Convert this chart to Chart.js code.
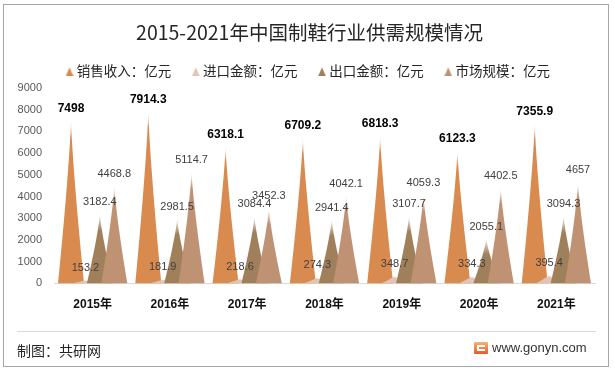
<!DOCTYPE html>
<html><head><meta charset="utf-8">
<script src="https://cdn.jsdelivr.net/npm/chart.js@4.4.1/dist/chart.umd.min.js"></script>
<style>
html,body{margin:0;padding:0;background:#fff;}
#wrap{position:relative;width:615px;height:371px;overflow:hidden;background:#fff;}
#c{position:absolute;left:0;top:0;}
#frame{position:absolute;left:3px;top:4px;width:606px;height:363px;border:1px solid #a6a6a6;box-sizing:border-box;pointer-events:none;}
#sep{position:absolute;left:17px;top:331px;width:579px;height:1px;background:#d9d9d9;}
#src{position:absolute;left:17px;top:341px;font:14px "Noto Sans CJK SC",sans-serif;line-height:18px;color:#262626;}
#logo{position:absolute;left:474px;top:342px;width:14px;height:12px;background:linear-gradient(#f9b46c,#e9572c);border-radius:1px;}
#logo i{position:absolute;left:3px;top:3px;width:8px;height:2px;background:#fff;}
#logo b{position:absolute;left:3px;top:3px;width:2px;height:6px;background:#fff;}
#logo u{position:absolute;left:3px;top:7px;width:8px;height:2px;background:#fff;}
#url{position:absolute;left:492px;top:340px;font:13px "Liberation Sans",Arial,sans-serif;line-height:16px;color:#333;}
</style></head>
<body>
<div id="wrap">
<canvas id="c" width="615" height="371"></canvas>
<div id="frame"></div>
<div id="sep"></div>
<div id="src">制图：共研网</div>
<div id="logo"><i></i><b></b><u></u></div>
<div id="url">www.gonyn.com</div>
</div>
<script>
const categories = ['2015年','2016年','2017年','2018年','2019年','2020年','2021年'];
const salesRevenue = [7498, 7914.3, 6318.1, 6709.2, 6818.3, 6123.3, 7355.9];
const importValue = [153.2, 181.9, 218.6, 274.3, 348.7, 334.3, 395.4];
const exportValue = [3182.4, 2981.5, 3084.4, 2941.4, 3107.7, 2055.1, 3094.3];
const marketSize = [4468.8, 5114.7, 3452.3, 4042.1, 4059.3, 4402.5, 4657];
const seriesNames = ['销售收入：亿元', '进口金额：亿元', '出口金额：亿元', '市场规模：亿元'];
const seriesColors = ['#D98A4E', '#E2C4B4', '#A0805A', '#BE9273'];
const yMin = 0, yMax = 9000, yStep = 1000;

const CJK = '"Noto Sans CJK SC", sans-serif';
const NUM = '"Liberation Sans", "Noto Sans CJK SC", sans-serif';

function rgb(hex){const n=parseInt(hex.slice(1),16);return [(n>>16)&255,(n>>8)&255,n&255];}

function spikePath(ctx, x, top, base, W){
  const h = base - top;
  const N = 24, P = 1.25;
  ctx.beginPath();
  ctx.moveTo(x - W, base);
  for (let k = 1; k <= N; k++){
    const s = k / N;
    ctx.lineTo(x - W * Math.pow(1 - s, P), base - s * h);
  }
  for (let k = N - 1; k >= 0; k--){
    const s = k / N;
    ctx.lineTo(x + W * Math.pow(1 - s, P), base - s * h);
  }
  ctx.closePath();
}
function spikeFill(ctx, color, top, base){
  const [r,g,b] = rgb(color);
  const h = Math.max(base - top, 1);
  const grad = ctx.createLinearGradient(0, top, 0, base);
  const f = Math.min(0.35, 16 / h);
  grad.addColorStop(0, `rgba(${r},${g},${b},0.12)`);
  grad.addColorStop(f, `rgba(${r},${g},${b},1)`);
  grad.addColorStop(1, `rgba(${r},${g},${b},1)`);
  return grad;
}

const legendIcons = seriesColors.map(c => {
  const cv = document.createElement('canvas');
  cv.width = 8; cv.height = 10;
  const x = cv.getContext('2d');
  spikePath(x, 4, 0, 10, 4);
  x.fillStyle = spikeFill(x, c, 0, 10);
  x.fill();
  return cv;
});

const spikePlugin = {
  id: 'spikes',
  afterDatasetsDraw(chart){
    const ctx = chart.ctx;
    ctx.save();
    chart.data.datasets.forEach((ds, di) => {
      const meta = chart.getDatasetMeta(di);
      meta.data.forEach(el => {
        const p = el.getProps(['x','y','base','width'], true);
        const W = p.width * 0.9;
        spikePath(ctx, p.x, p.y, p.base, W);
        ctx.fillStyle = spikeFill(ctx, ds.spikeColor, p.y, p.base);
        ctx.fill();
      });
    });
    chart.data.datasets.forEach((ds, di) => {
      const meta = chart.getDatasetMeta(di);
      meta.data.forEach((el, i) => {
        const p = el.getProps(['x','y'], true);
        ctx.font = di === 0 ? 'bold 12px ' + NUM : '11px ' + NUM;
        ctx.fillStyle = di === 0 ? '#000' : '#404040';
        ctx.textAlign = 'center';
        ctx.textBaseline = 'middle';
        ctx.fillText(String(ds.data[i]), p.x, p.y - 12);
      });
    });
    ctx.restore();
  }
};

const seriesData = [salesRevenue, importValue, exportValue, marketSize];
new Chart(document.getElementById('c'), {
  type: 'bar',
  data: {
    labels: categories,
    datasets: seriesData.map((d, i) => ({
      label: seriesNames[i],
      data: d,
      spikeColor: seriesColors[i],
      backgroundColor: 'rgba(0,0,0,0)',
      borderWidth: 0,
      categoryPercentage: 0.747,
      barPercentage: 1.0
    }))
  },
  options: {
    responsive: false,
    animation: false,
    devicePixelRatio: 1,
    layout: { padding: { left: 4, right: 0, top: 0, bottom: 0 } },
    plugins: {
      tooltip: { enabled: false },
      title: {
        display: true,
        text: '2015-2021年中国制鞋行业供需规模情况',
        color: '#262626',
        font: { family: CJK, size: 19.5, weight: 'normal', lineHeight: 0.8 },
        padding: { top: 24.9, bottom: 0 }
      },
      legend: {
        display: true,
        position: 'top',
        labels: {
          usePointStyle: true,
          pointStyleWidth: 1,
          boxHeight: 10,
          padding: 24,
          color: '#262626',
          font: { family: CJK, size: 13.5 },
          generateLabels(chart){
            return chart.data.datasets.map((ds, i) => ({
              text: ds.label,
              pointStyle: legendIcons[i],
              fillStyle: ds.spikeColor,
              strokeStyle: 'rgba(0,0,0,0)',
              lineWidth: 0,
              fontColor: '#262626',
              hidden: !chart.isDatasetVisible(i),
              datasetIndex: i
            }));
          }
        }
      }
    },
    scales: {
      x: {
        grid: { display: false, drawTicks: false },
        border: { display: true, color: '#d9d9d9', width: 1 },
        ticks: { color: '#111', font: { family: NUM, size: 12, weight: 'bold' }, padding: 14.5 },
        afterFit(s){ s.height = 371 - 283.3; }
      },
      y: {
        min: yMin, max: yMax,
        grid: { display: false, drawTicks: false },
        border: { display: false },
        ticks: { stepSize: yStep, color: '#595959', font: { family: NUM, size: 11 }, padding: 12,
                 callback: v => String(v) },
        afterFit(s){ s.width = 50; }
      },
      y2: {
        position: 'right',
        display: true,
        grid: { display: false, drawTicks: false },
        border: { display: false },
        ticks: { display: false },
        afterFit(s){ s.width = 20; }
      }
    }
  },
  plugins: [spikePlugin]
});
</script>
</body></html>
